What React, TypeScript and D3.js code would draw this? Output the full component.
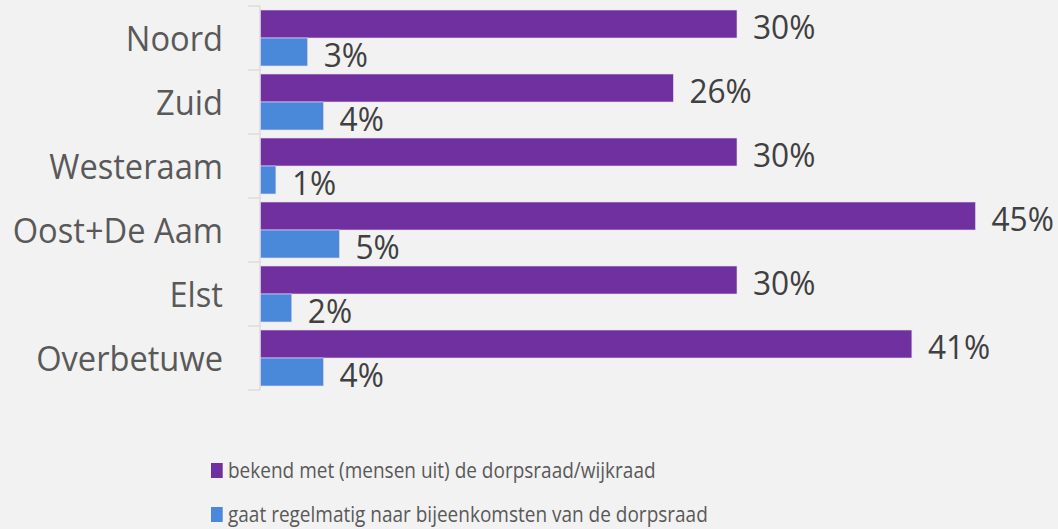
import React from "react";
import * as d3 from "d3";

const categories = ["Noord", "Zuid", "Westeraam", "Oost+De Aam", "Elst", "Overbetuwe"];
const seriesNames = [
  "bekend met (mensen uit) de dorpsraad/wijkraad",
  "gaat regelmatig naar bijeenkomsten van de dorpsraad",
];
const bekend = [30, 26, 30, 45, 30, 41];
const bijeenkomsten = [3, 4, 1, 5, 2, 4];
const seriesValues = [bekend, bijeenkomsten];
const colors = ["#7030a0", "#4a89da"];

const W = 1058;
const H = 529;
const FONT = "'Open Sans', 'Noto Sans', sans-serif";
const SX = 0.96;

export default function App() {
  const x = d3.scaleLinear().domain([0, 50]).range([260, 260 + 15.9 * 50]);
  const y = d3.scaleBand<string>().domain(categories).range([6, 390]).paddingInner(0).paddingOuter(0);
  const inner = d3
    .scaleBand<string>()
    .domain(seriesNames)
    .range([0, y.bandwidth()])
    .paddingInner(0)
    .paddingOuter(0.143);

  return (
    <svg
      width={W}
      height={H}
      style={{ position: "absolute", left: 0, top: 0, display: "block", background: "#f2f2f2" }}
    >
      <rect x={0} y={0} width={W} height={H} fill="#f2f2f2" />
      <line x1={x(0)} x2={x(0)} y1={y.range()[0]} y2={y.range()[1]} stroke="#d9d9d9" strokeWidth={1.3} />
      {[...categories.map((c) => y(c)!), y.range()[1]].map((ty, i) => (
        <line key={"t" + i} x1={x(0) - 12} x2={x(0)} y1={ty} y2={ty} stroke="#d9d9d9" strokeWidth={1.3} />
      ))}
      {categories.map((c) => (
        <text
          key={"c" + c}
          transform={`translate(${x(0) - 37},${y(c)! + y.bandwidth() / 2}) scale(${SX},1)`}
          textAnchor="end"
          dominantBaseline="central"
          fontFamily={FONT}
          fontSize={34}
          fill="#595959"
        >
          {c}
        </text>
      ))}
      {seriesNames.map((s, si) =>
        categories.map((c, ci) => {
          const v = seriesValues[si][ci];
          const by = y(c)! + inner(s)!;
          const bh = inner.bandwidth();
          return (
            <g key={s + c}>
              <rect
                x={x(0) + 0.5}
                y={by}
                width={x(v) - x(0) - 0.5}
                height={bh}
                fill={colors[si]}
                stroke="#e6dcef"
                strokeWidth={0.6}
              />
              <text
                transform={`translate(${x(v) + 16},${by + bh / 2 + 1.5}) scale(${SX},1)`}
                textAnchor="start"
                dominantBaseline="central"
                fontFamily={FONT}
                fontSize={33}
                fill="#404040"
              >
                {v + "%"}
              </text>
            </g>
          );
        })
      )}
      {seriesNames.map((s, si) => {
        const ly = 470.5 + si * 44;
        return (
          <g key={"l" + s}>
            <rect x={211} y={ly - 7.5} width={11.7} height={15} fill={colors[si]} />
            <text
              transform={`translate(228,${ly}) scale(0.905,1)`}
              dominantBaseline="central"
              fontFamily={FONT}
              fontSize={21}
              fill="#595959"
            >
              {s}
            </text>
          </g>
        );
      })}
    </svg>
  );
}
